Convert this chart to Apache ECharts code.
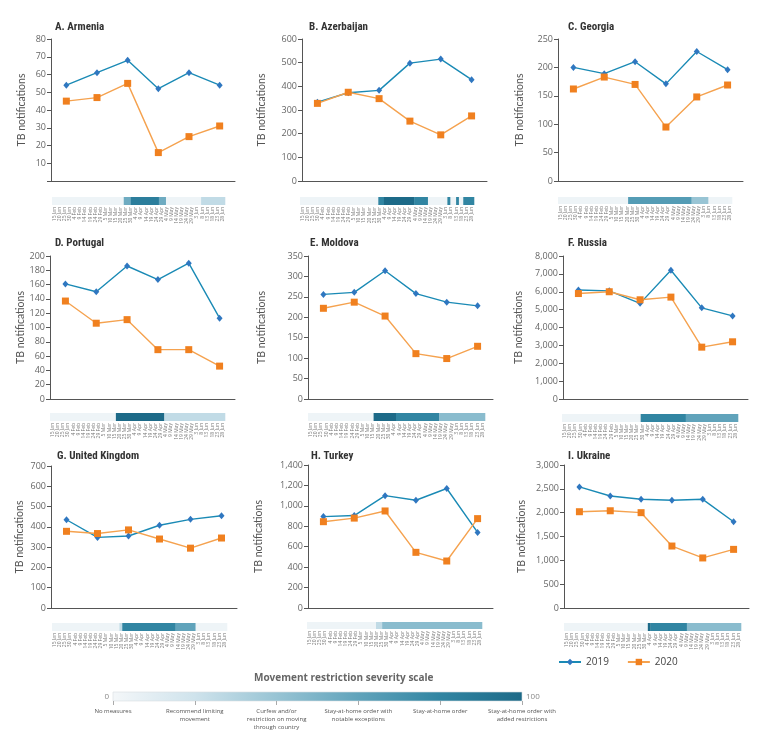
<!DOCTYPE html>
<html>
<head>
<meta charset="utf-8">
<script src="https://cdn.jsdelivr.net/npm/echarts@6/dist/echarts.min.js"></script>
<style>
html,body{margin:0;padding:0;background:#fff;}
#chart{width:773px;height:739px;}
</style>
</head>
<body>
<div id="chart"></div>
<script>
// ---------------- DATA ----------------
const periods = ['Jan', 'Feb', 'Mar', 'Apr', 'May', 'Jun'];
const panelTitles = ['A. Armenia', 'B. Azerbaijan', 'C. Georgia', 'D. Portugal', 'E. Moldova', 'F. Russia', 'G. United Kingdom', 'H. Turkey', 'I. Ukraine'];

const armenia2019 = [54, 61, 68, 52, 61, 54];
const armenia2020 = [45, 47, 55, 16, 25, 31];
const azerbaijan2019 = [333, 373, 383, 498, 515, 428];
const azerbaijan2020 = [328, 375, 348, 253, 195, 275];
const georgia2019 = [200, 189, 210, 171, 228, 196];
const georgia2020 = [162, 183, 170, 95, 148, 169];
const portugal2019 = [161, 150, 186, 167, 190, 113];
const portugal2020 = [137, 106, 111, 69, 69, 46];
const moldova2019 = [256, 261, 314, 258, 237, 228];
const moldova2020 = [222, 237, 203, 111, 99, 129];
const russia2019 = [6100, 6050, 5350, 7200, 5100, 4650];
const russia2020 = [5900, 6000, 5550, 5700, 2900, 3200];
const uk2019 = [435, 348, 355, 408, 437, 455];
const uk2020 = [378, 367, 385, 340, 295, 345];
const turkey2019 = [895, 905, 1100, 1055, 1170, 740];
const turkey2020 = [845, 880, 950, 545, 460, 875];
const ukraine2019 = [2540, 2350, 2280, 2260, 2280, 1810];
const ukraine2020 = [2020, 2040, 2000, 1300, 1050, 1230];

// y-axis tick labels: max and step per panel
const yMax = [80, 600, 250, 200, 350, 8000, 700, 1400, 3000];
const yStep = [10, 100, 50, 20, 50, 1000, 100, 200, 500];

// restriction strip dates (5-day steps)
const dateLabels = ['15 Jan','20 Jan','25 Jan','30 Jan','4 Feb','9 Feb','14 Feb','19 Feb','24 Feb','29 Feb','5 Mar','10 Mar','15 Mar','20 Mar','25 Mar','30 Mar','4 Apr','9 Apr','14 Apr','19 Apr','24 Apr','29 Apr','4 May','9 May','14 May','19 May','24 May','29 May','3 Jun','8 Jun','13 Jun','18 Jun','23 Jun','28 Jun'];

// restriction segments: [startIndex, endIndex, severity 0-100] on the date scale
const armeniaStrip = [[0, 14.1, 3], [14.1, 15.5, 55], [15.5, 21, 85], [21, 22.4, 55], [22.4, 29.3, 3], [29.3, 34, 25]];
const azerbaijanStrip = [[0, 15.3, 3], [15.3, 16.4, 80], [16.4, 22.3, 100], [22.3, 25, 80], [25, 28.8, 3], [28.8, 29.4, 80], [29.4, 30.5, 3], [30.5, 31.05, 80], [31.05, 31.9, 3], [31.9, 34, 80]];
const georgiaStrip = [[0, 13.7, 3], [13.7, 26.1, 65], [26.1, 29.4, 40], [29.4, 34, 3]];
const portugalStrip = [[0, 12.8, 3], [12.8, 22.2, 100], [22.2, 34, 25]];
const moldovaStrip = [[0, 12.6, 3], [12.6, 16.9, 100], [16.9, 25.2, 80], [25.2, 34, 45]];
const russiaStrip = [[0, 15.2, 3], [15.2, 23.9, 80], [23.9, 34, 60]];
const ukStrip = [[0, 13.1, 3], [13.1, 13.65, 25], [13.65, 24.0, 80], [24.0, 27.9, 60], [27.9, 34, 3]];
const turkeyStrip = [[0, 13.4, 3], [13.4, 14.6, 25], [14.6, 34, 45]];
const ukraineStrip = [[0, 16.1, 3], [16.1, 16.6, 100], [16.6, 23.6, 80], [23.6, 34, 45]];

const severityLabels = ['No measures', 'Recommend limiting\nmovement', 'Curfew and/or\nrestriction on moving\nthrough country', 'Stay-at-home order with\nnotable exceptions', 'Stay-at-home order', 'Stay-at-home order with\nadded restrictions'];
const severityEnds = ['0', '100'];

const series2019 = [armenia2019, azerbaijan2019, georgia2019, portugal2019, moldova2019, russia2019, uk2019, turkey2019, ukraine2019];
const series2020 = [armenia2020, azerbaijan2020, georgia2020, portugal2020, moldova2020, russia2020, uk2020, turkey2020, ukraine2020];
const strips = [armeniaStrip, azerbaijanStrip, georgiaStrip, portugalStrip, moldovaStrip, russiaStrip, ukStrip, turkeyStrip, ukraineStrip];

// ---------------- LAYOUT ----------------
const lineGrids = [
  [51, 39, 184, 142], [302, 39, 185, 142], [558, 39, 185, 142],
  [50, 256, 185, 143], [308, 256, 185, 143], [563, 256, 185, 143],
  [51, 466, 186, 142], [308, 465, 185, 143], [564, 465, 185, 143]
];
const stripGrids = [
  [52, 197, 173, 8], [300, 197, 174, 8], [558, 197, 174, 7],
  [50, 413, 175, 8], [308, 413, 177, 8], [562, 414, 176, 8],
  [52, 623, 175, 8], [307, 622, 175, 7], [564, 623, 177, 8]
];
const titlePos = [[50, 17], [304, 17], [563, 17], [50, 233], [305, 233], [563, 233], [52, 446], [306, 446], [563, 446]];
const nameGaps = [24, 35, 33, 24, 41, 39, 26, 44, 37];

const AXIS = '#555';
const LABEL_FONT = '"Open Sans", "Noto Sans", sans-serif';
const SCALE_COLORS = ['#f4f7f9', '#cfe3ec', '#98c4d4', '#60a3bb', '#3185a2', '#1d6a88'];

const grids = [], xAxes = [], yAxes = [], series = [], titles = [];
const stripSeriesIdx = [];

function fmt(v) { return v >= 1000 ? v.toLocaleString('en-US') : String(v); }

for (let i = 0; i < 9; i++) {
  const g = lineGrids[i], s = stripGrids[i];
  grids.push({ left: g[0], top: g[1], width: g[2], height: g[3] });
  grids.push({ left: s[0], top: s[1], width: s[2], height: s[3] });
  const lg = 2 * i, sg = 2 * i + 1;
  titles.push({
    text: panelTitles[i], left: titlePos[i][0], top: titlePos[i][1],
    textStyle: { fontFamily: '"Roboto Condensed", "Liberation Sans Narrow", "Roboto", sans-serif', fontWeight: 'bold', fontSize: 11, color: '#333' }
  });
  xAxes.push({
    type: 'category', gridIndex: lg, data: periods, boundaryGap: true,
    axisLine: { lineStyle: { color: AXIS, width: 1 } },
    axisTick: { show: false }, axisLabel: { show: false }
  });
  const hideZero = (i === 0);
  yAxes.push({
    type: 'value', gridIndex: lg, min: 0, max: yMax[i], interval: yStep[i],
    name: 'TB notifications', nameLocation: 'middle', nameGap: nameGaps[i], nameRotate: 90,
    nameTextStyle: { fontFamily: '"Lato", sans-serif', fontSize: 10.5, color: '#555' },
    axisLine: { show: true, lineStyle: { color: AXIS, width: 1 } },
    axisTick: { show: true, length: 4, lineStyle: { color: AXIS } },
    splitLine: { show: false },
    axisLabel: {
      fontFamily: LABEL_FONT, fontSize: 9, color: '#666', margin: 5,
      formatter: v => (hideZero && v === 0) ? '' : fmt(v)
    }
  });
  xAxes.push({
    type: 'category', gridIndex: sg, data: dateLabels, boundaryGap: true, position: 'bottom',
    axisLine: { show: false }, axisTick: { show: false },
    axisLabel: { interval: 0, rotate: 90, fontSize: 5, color: '#777', margin: 2, fontFamily: LABEL_FONT }
  });
  xAxes.push({ type: 'value', gridIndex: sg, min: 0, max: dateLabels.length, show: false });
  yAxes.push({ type: 'value', gridIndex: sg, min: 0, max: 1, show: false });

  series.push({
    name: '2019', type: 'line', xAxisIndex: 3 * i, yAxisIndex: lg, data: series2019[i],
    symbol: 'diamond', symbolSize: [6, 7], z: 3,
    lineStyle: { color: '#1a8ab5', width: 1.4 }, itemStyle: { color: '#2f77c0' }
  });
  series.push({
    name: '2020', type: 'line', xAxisIndex: 3 * i, yAxisIndex: lg, data: series2020[i],
    symbol: 'rect', symbolSize: 7, z: 4,
    lineStyle: { color: '#f5a24f', width: 1.4 }, itemStyle: { color: '#f0801f' }
  });
  stripSeriesIdx.push(series.length);
  series.push({
    type: 'custom', xAxisIndex: 3 * i + 2, yAxisIndex: sg, data: strips[i],
    encode: { x: [0, 1] },
    renderItem: function (params, api) {
      const p0 = api.coord([api.value(0), 0]);
      const p1 = api.coord([api.value(1), 1]);
      return {
        type: 'rect',
        shape: { x: p0[0], y: p1[1], width: p1[0] - p0[0] + 0.3, height: p0[1] - p1[1] },
        style: { fill: api.visual('color') }
      };
    }
  });
}

// severity scale axis (legend ticks)
grids.push({ left: 113, top: 692, width: 409, height: 9 });
xAxes.push({
  type: 'value', gridIndex: 18, min: 0, max: 100, interval: 20, position: 'bottom',
  axisLine: { show: false },
  axisTick: { show: true, length: 4, lineStyle: { color: '#aaa' } },
  splitLine: { show: false },
  axisLabel: { formatter: v => severityLabels[Math.round(v / 20)], fontSize: 6, lineHeight: 8, color: '#555', margin: 6, fontFamily: LABEL_FONT }
});
yAxes.push({ type: 'value', gridIndex: 18, show: false, min: 0, max: 1 });

titles.push({
  text: 'Movement restriction severity scale', left: 249, top: 668,
  textStyle: { fontFamily: LABEL_FONT, fontWeight: 'bold', fontSize: 10, color: '#666' }
});

const stops = SCALE_COLORS.map((c, k) => ({ offset: k / (SCALE_COLORS.length - 1), color: c }));

const option = {
  backgroundColor: '#fff',
  animation: false,
  title: titles,
  grid: grids,
  xAxis: xAxes,
  yAxis: yAxes,
  series: series,
  legend: {
    data: ['2019', '2020'], left: 553, top: 652, itemWidth: 22, itemHeight: 8, itemGap: 18,
    textStyle: { fontFamily: LABEL_FONT, fontSize: 10, color: '#444' }
  },
  visualMap: {
    type: 'continuous', show: false, min: 0, max: 100, seriesIndex: stripSeriesIdx, dimension: 2,
    inRange: { color: SCALE_COLORS }
  },
  graphic: [
    {
      type: 'rect', x: 113, y: 692, shape: { x: 0, y: 0, width: 409, height: 9 },
      style: { fill: new echarts.graphic.LinearGradient(0, 0, 1, 0, stops), stroke: '#d8dde0', lineWidth: 0.6 }
    },
    { type: 'text', x: 109, y: 696.5, style: { text: severityEnds[0], align: 'right', verticalAlign: 'middle', fontSize: 8, fill: '#888', fontFamily: LABEL_FONT } },
    { type: 'text', x: 526, y: 696.5, style: { text: severityEnds[1], align: 'left', verticalAlign: 'middle', fontSize: 8, fill: '#888', fontFamily: LABEL_FONT } }
  ]
};

const chart = echarts.init(document.getElementById('chart'), null, { renderer: 'canvas' });
chart.setOption(option);
</script>
</body>
</html>
